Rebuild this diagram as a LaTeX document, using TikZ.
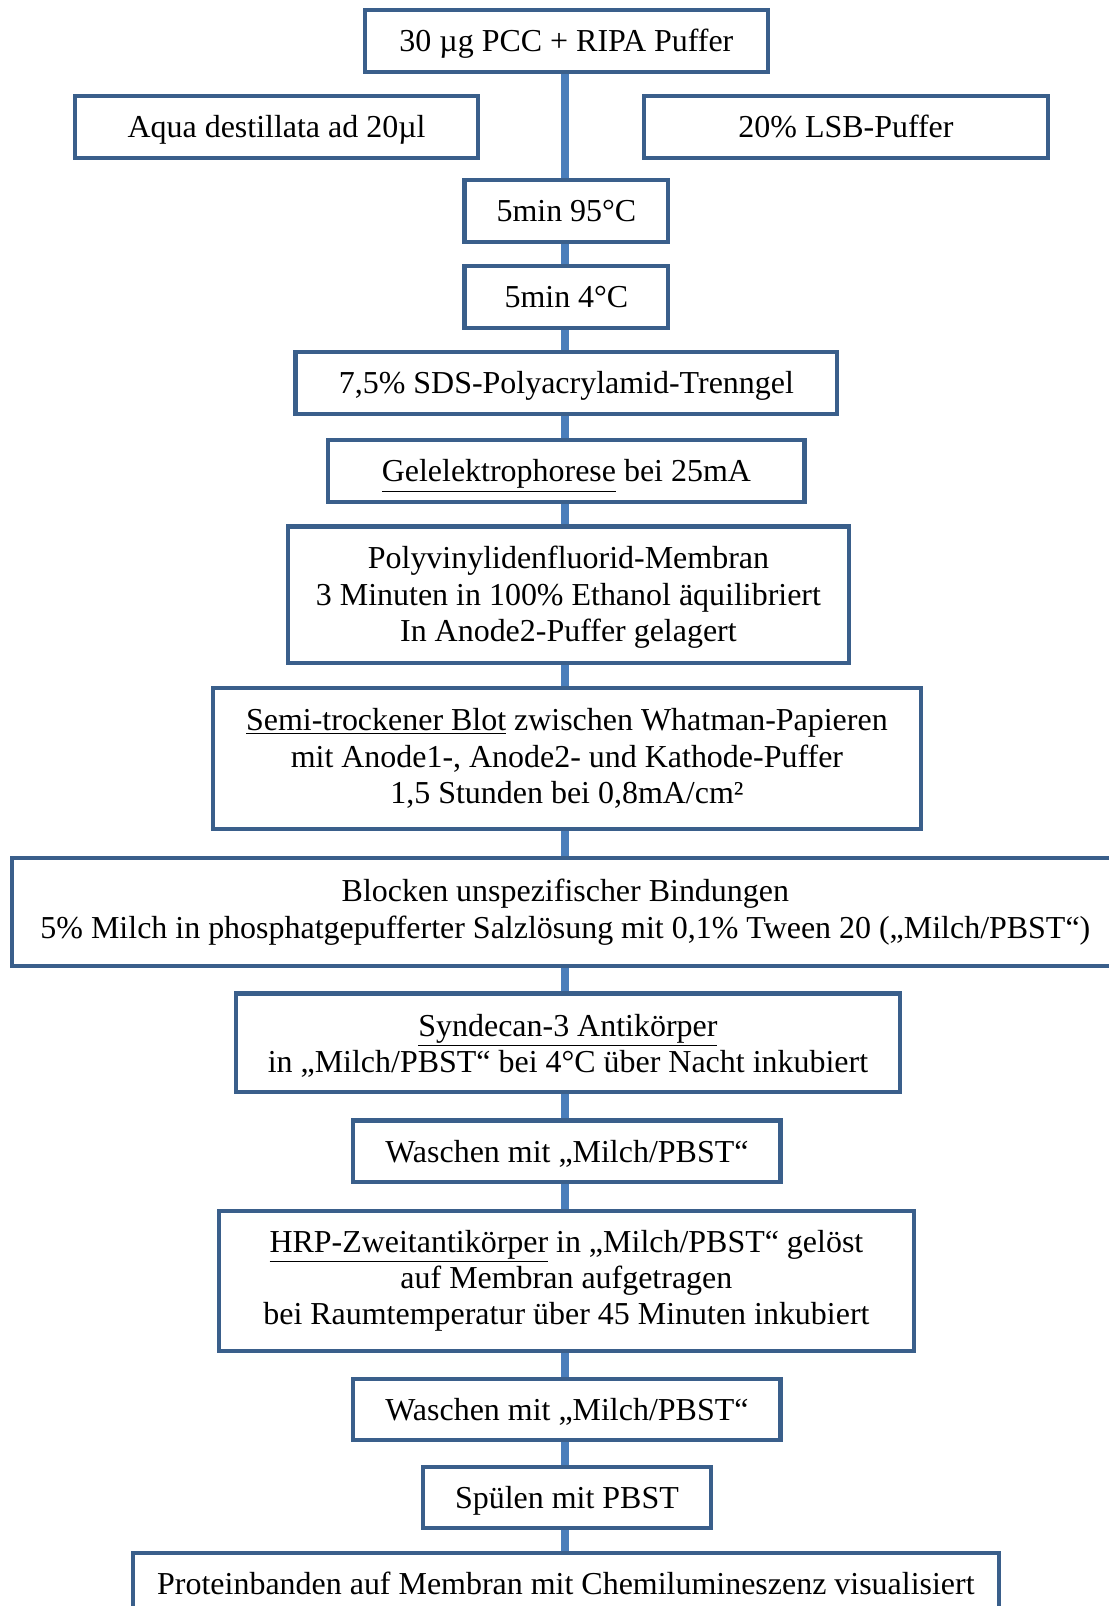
\documentclass[tikz,border=0pt]{standalone}
\usepackage{fontspec}
\setmainfont{Liberation Serif}
\usepackage{tikz}
\usetikzlibrary{backgrounds}

\definecolor{boxline}{HTML}{3A5F8B}
\definecolor{linkline}{HTML}{4A7EBB}
\newcommand{\toppad}{\rule{0pt}{13.65pt}}

\begin{document}
\begin{tikzpicture}[x=0.5pt, y=-0.5pt,
	every node/.style={font=\fontsize{15.6}{17.75}\selectfont},
	stepbox/.style={draw=boxline, line width=2pt, fill=white, align=center, inner sep=0pt, minimum height=30pt},
	onerow/.style={text height=13pt, text depth=2.5pt},
	link/.style={draw=linkline, line width=4pt}]
	\useasboundingbox (0,0) rectangle (1082,1568);
	\node[stepbox, onerow, minimum width=197pt] (lysate) at (553,40) {30 µg PCC + RIPA Puffer};
	\node[stepbox, onerow, minimum width=197pt] (aqua) at (270,124) {Aqua destillata ad 20µl};
	\node[stepbox, onerow, minimum width=197pt] (lsb) at (826,124) {20\% LSB-Puffer};
	\node[stepbox, onerow, minimum width=99.5pt] (heat) at (553,206) {5min 95°C};
	\node[stepbox, onerow, minimum width=99.5pt] (cool) at (553,290) {5min 4°C};
	\node[stepbox, onerow, minimum width=264.5pt] (gel) at (553,374) {7,5\% SDS-Polyacrylamid-Trenngel};
	\node[stepbox, onerow, minimum width=232.5pt] (run) at (553,460) {\underline{Gelelektrophorese} bei 25mA};
	\node[stepbox, minimum width=274pt, minimum height=66.5pt] (pvdf) at (555,580.5) {\toppad Polyvinylidenfluorid-Membran\\3 Minuten in 100\% Ethanol äquilibriert\\In Anode2-Puffer gelagert};
	\node[stepbox, minimum width=345.5pt, minimum height=68.5pt] (blot) at (553.5,740.5) {\underline{Semi-trockener Blot} zwischen Whatman-Papieren\\mit Anode1-, Anode2- und Kathode-Puffer\\1,5 Stunden bei 0,8mA/cm²};
	\node[stepbox, minimum width=540pt, minimum height=52.5pt] (block) at (552,890.5) {Blocken unspezifischer Bindungen\\5\% Milch in phosphatgepufferter Salzlösung mit 0,1\% Tween 20 („Milch/PBST“)};
	\node[stepbox, minimum width=324.5pt, minimum height=48pt] (primary) at (554.5,1018) {\toppad\underline{Syndecan-3 Antikörper}\\in „Milch/PBST“ bei 4°C über Nacht inkubiert};
	\node[stepbox, onerow, minimum width=208.5pt] (washa) at (553.5,1124) {Waschen mit „Milch/PBST“};
	\node[stepbox, minimum width=339pt, minimum height=68.5pt] (secondary) at (553,1250.5) {\underline{HRP-Zweitantikörper} in „Milch/PBST“ gelöst\\auf Membran aufgetragen\\bei Raumtemperatur über 45 Minuten inkubiert};
	\node[stepbox, onerow, minimum width=208.5pt] (washb) at (553.5,1376) {Waschen mit „Milch/PBST“};
	\node[stepbox, onerow, minimum width=140.5pt] (rinse) at (553.5,1462) {Spülen mit PBST};
	\node[stepbox, onerow, minimum width=422.5pt] (detect) at (552.5,1546) {Proteinbanden auf Membran mit Chemilumineszenz visualisiert};
	% vertical line behind the boxes
	\begin{scope}[on background layer]
		\foreach \a/\b in {lysate/heat, heat/cool, cool/gel, gel/run, run/pvdf, pvdf/blot, blot/block, block/primary, primary/washa, washa/secondary, secondary/washb, washb/rinse, rinse/detect}
			\draw[link] (\a.south -| 552,0) -- (\b.north -| 552,0);
	\end{scope}
\end{tikzpicture}
\end{document}
